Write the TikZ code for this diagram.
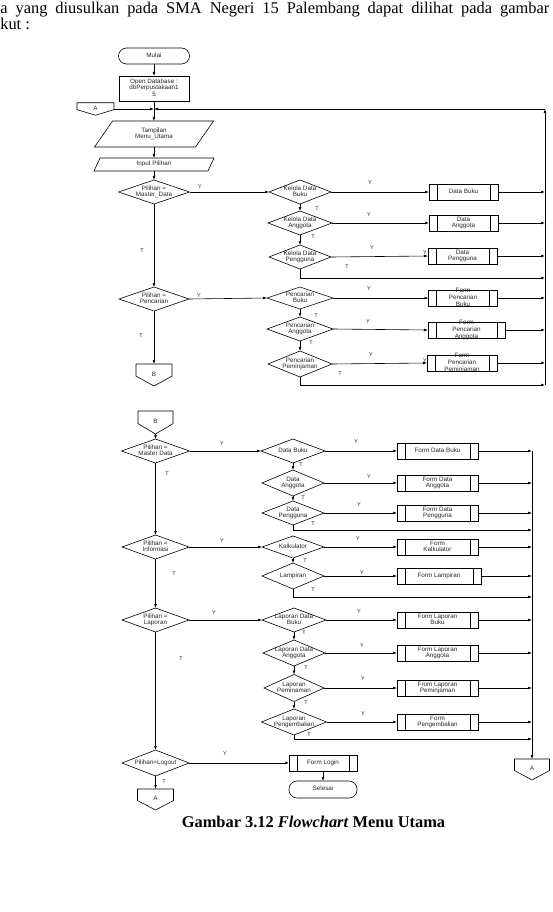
\documentclass[tikz,border=0pt]{standalone}
\usepackage{fontspec}
\setmainfont{Liberation Serif}
\newfontfamily\arialf{Liberation Sans}
\usetikzlibrary{arrows.meta,calc}
\newcommand\zt[1]{\smash{\makebox[0pt]{\raisebox{-1.6pt}{$\vcenter{\hbox{\begin{tabular}{@{}c@{}}#1\end{tabular}}}$}}}}
\begin{document}
\begin{tikzpicture}[x=1pt,y=-1pt,line width=0.6pt,
  base/.style={font=\arialf\fontsize{6.3}{6.8}\selectfont, inner sep=0pt, outer sep=0pt, text=black!85},
  box/.style={base, draw, rectangle},
  term/.style={base, draw, rectangle, rounded corners=8pt},
  proc/.style={base, draw, rectangle, minimum height=16pt,
    path picture={\draw ([xshift=8pt]path picture bounding box.north west) -- ([xshift=8pt]path picture bounding box.south west)
      ([xshift=-8pt]path picture bounding box.north east) -- ([xshift=-8pt]path picture bounding box.south east);}},
  blank/.style={base, rectangle},
  lab/.style={font=\arialf\fontsize{5.5}{6}\selectfont, inner sep=0pt, text=black!85},
  arr/.style={-{Latex[length=4pt,width=2.8pt]}}]
\useasboundingbox (0,0) rectangle (552,912);

% page text
\node[anchor=base west, inner sep=0pt, font=\fontsize{16.4}{19}\selectfont] (line1) at (0,14)
  {\makebox[549pt][s]{a yang diusulkan pada SMA Negeri 15 Palembang dapat dilihat pada gambar}};
\node[anchor=base west, inner sep=0pt, font=\fontsize{16.4}{19}\selectfont] (line2) at (0,29.5) {kut :};
\node[anchor=base, inner sep=0pt, font=\bfseries\fontsize{16.4}{19}\selectfont] (cap) at (313.5,827)
  {Gambar 3.12 \textit{Flowchart} Menu Utama};

% ---------- part 1 ----------
\node[term, minimum width=71pt, minimum height=16pt] (mulai) at (154,56) {\zt{Mulai}};
\node[box, minimum width=70pt, minimum height=25pt] (opendb) at (154,88.5) {\zt{Open Database :\\dbPerpustakaan1\\5}};
\node[blank, minimum width=37pt, minimum height=12.5pt] (conA1) at (95.5,109) {\zt{A}};
\node[blank, minimum width=119pt, minimum height=26pt] (tamp) at (154,134) {\zt{Tampilan\\Menu\_Utama}};
\node[blank, minimum width=120pt, minimum height=13pt] (inp) at (154,164.5) {\zt{Input Pilihan}};
\node[blank, minimum width=71pt, minimum height=24pt] (dMaster) at (154,192) {\zt{Pilihan =\\Master\_Data}};
\node[blank, minimum width=62pt, minimum height=24pt] (kBuku) at (300,192) {\zt{Kelola Data\\Buku}};
\node[blank, minimum width=64pt, minimum height=24pt] (kAng) at (300,223) {\zt{Kelola Data\\Anggota}};
\node[blank, minimum width=62pt, minimum height=24pt] (kPeng) at (300,257) {\zt{Kelola Data\\Pengguna}};
\node[proc, minimum width=69pt] (pBuku) at (463.5,192) {\zt{Data Buku}};
\node[proc, minimum width=69pt] (pAng) at (463.5,223) {\zt{Data\\Anggota}};
\node[proc, minimum width=69pt] (pPeng) at (462.5,256) {\zt{Data\\Pengguna}};
\node[blank, minimum width=70pt, minimum height=24pt] (dPenc) at (154,299) {\zt{Pilihan =\\Pencarian}};
\node[blank, minimum width=66pt, minimum height=22pt] (cBuku) at (300,298) {\zt{Pencarian\\Buku}};
\node[blank, minimum width=66pt, minimum height=24pt] (cAng) at (300,329) {\zt{Pencarian\\Anggota}};
\node[blank, minimum width=64pt, minimum height=26pt] (cPem) at (300,364) {\zt{Pencarian\\Peminjaman}};
\node[proc, minimum width=69pt] (fcBuku) at (463,298) {\zt{Form\\Pencarian\\Buku}};
\node[proc, minimum width=77pt] (fcAng) at (466.5,330) {\zt{Form\\Pencarian\\Anggota}};
\node[proc, minimum width=70pt] (fcPem) at (462,363) {\zt{Form\\Pencarian\\Peminjaman}};
\node[blank, minimum width=36pt, minimum height=22pt] (conB1) at (154,375) {\zt{B}};
\coordinate (rtop) at (545,109);
\coordinate (b1) at (545,278);
\coordinate (b2) at (545,385);

% ---------- part 2 ----------
\node[blank, minimum width=35pt, minimum height=23pt] (conB2) at (155.5,422.5) {\zt{B}};
\node[blank, minimum width=68pt, minimum height=24pt] (d2Master) at (155.5,451) {\zt{Pilihan =\\Master Data}};
\node[blank, minimum width=64pt, minimum height=24pt] (dbBuku) at (293,451) {\zt{Data Buku}};
\node[blank, minimum width=62pt, minimum height=26pt] (dbAng) at (293,483) {\zt{Data\\Anggota}};
\node[blank, minimum width=62pt, minimum height=24pt] (dbPeng) at (293,513) {\zt{Data\\Pengguna}};
\node[proc, minimum width=81pt] (fdBuku) at (437.5,451) {\zt{Form Data Buku}};
\node[proc, minimum width=81pt] (fdAng) at (437.5,483) {\zt{Form Data\\Anggota}};
\node[proc, minimum width=81pt] (fdPeng) at (437.5,513) {\zt{Form Data\\Pengguna}};
\node[blank, minimum width=67pt, minimum height=24pt] (d2Info) at (155.5,547) {\zt{Pilihan =\\Informasi}};
\node[blank, minimum width=62pt, minimum height=22pt] (kalk) at (293,547) {\zt{Kalkulator}};
\node[blank, minimum width=62pt, minimum height=26pt] (lamp) at (293,576) {\zt{Lampiran}};
\node[proc, minimum width=81pt] (fKalk) at (437.5,547) {\zt{Form\\Kalkulator}};
\node[proc, minimum width=84pt] (fLamp) at (439,576) {\zt{Form Lampiran}};
\node[blank, minimum width=67pt, minimum height=24pt] (d2Lap) at (155.5,620) {\zt{Pilihan =\\Laporan}};
\node[blank, minimum width=64pt, minimum height=24pt] (lBuku) at (294,620) {\zt{Laporan Data\\Buku}};
\node[blank, minimum width=62pt, minimum height=26pt] (lAng) at (294,653) {\zt{Laporan Data\\Anggota}};
\node[blank, minimum width=60pt, minimum height=27pt] (lPem) at (294,688) {\zt{Laporan\\Peminaman}};
\node[blank, minimum width=65pt, minimum height=26pt] (lPeng) at (294,722) {\zt{Laporan\\Pengembalian}};
\node[proc, minimum width=81pt] (flBuku) at (437.5,620) {\zt{Form Laporan\\Buku}};
\node[proc, minimum width=81pt] (flAng) at (437.5,653) {\zt{Form Laporan\\Anggota}};
\node[proc, minimum width=81pt] (flPem) at (437.5,688) {\zt{From Laporan\\Peminjaman}};
\node[proc, minimum width=81pt] (flPeng) at (437.5,722) {\zt{Form\\Pengembalian}};
\node[blank, minimum width=67pt, minimum height=26pt] (d2Logout) at (155.5,763) {\zt{Pilihan=Logout}};
\node[proc, minimum width=68pt] (fLogin) at (323,763) {\zt{Form Login}};
\node[term, minimum width=68pt, minimum height=17pt] (selesai) at (323,789.5) {\zt{Selesai}};
\node[blank, minimum width=35pt, minimum height=21pt] (conA2) at (532,769.5) {\zt{A}};
\node[blank, minimum width=36pt, minimum height=21pt] (conA3) at (155.5,799.5) {\zt{A}};
\coordinate (rtop2) at (532,451);
\coordinate (c1) at (532,530);
\coordinate (c2) at (532,597);
\coordinate (c3) at (532,739);

% ---------- shapes ----------
\foreach \n in {dMaster,kBuku,kAng,kPeng,dPenc,cBuku,cAng,cPem,d2Master,dbBuku,dbAng,dbPeng,d2Info,kalk,lamp,d2Lap,lBuku,lAng,lPem,lPeng,d2Logout}
  \draw (\n.north) -- (\n.east) -- (\n.south) -- (\n.west) -- cycle;
\foreach \n in {conA1,conB1,conB2,conA2,conA3}
  \draw (\n.north west) -- (\n.north east) -- ($(\n.north east)!0.55!(\n.south east)$) -- (\n.south)
    -- ($(\n.north west)!0.55!(\n.south west)$) -- cycle;
\draw ([xshift=18pt]tamp.north west) -- (tamp.north east) -- ([xshift=-18pt]tamp.south east) -- (tamp.south west) -- cycle;
\draw ([xshift=6pt]inp.north west) -- (inp.north east) -- ([xshift=-6pt]inp.south east) -- (inp.south west) -- cycle;

% ---------- connectors part 1 ----------
\draw[arr] (mulai) -- (opendb);
\draw[arr] (opendb) -- (tamp);
\draw[arr] (conA1.east) -- (conA1.east -| opendb.south);
\draw[arr] (b2) -- (rtop);
\draw[arr] (rtop) -- (rtop -| opendb.south);
\draw[arr] (tamp) -- (inp);
\draw[arr] (inp) -- (dMaster);
\draw[arr] (dMaster) -- (dPenc);
\draw[arr] (dPenc) -- (conB1);
\draw[arr] (dMaster.east) -- (kBuku.west);
\draw[arr] (dPenc.east) -- (cBuku.west);
\draw[arr] (kBuku) -- (kAng);
\draw[arr] (kAng) -- (kPeng);
\draw[arr] (cBuku) -- (cAng);
\draw[arr] (cAng) -- (cPem);
\draw[arr] (kBuku.east) -- (pBuku.west);
\draw[arr] (kAng.east) -- (pAng.west);
\draw[arr] (kPeng.east) -- (pPeng.west);
\draw[arr] (cBuku.east) -- (fcBuku.west);
\draw[arr] (cAng.east) -- (fcAng.west);
\draw[arr] (cPem.east) -- (fcPem.west);
\foreach \n in {pBuku,pAng,pPeng,fcBuku,fcAng,fcPem}
  \draw[arr] (\n.east) -- (\n.east -| rtop);
\draw[arr] (kPeng.south) |- (b1);
\draw[arr] (cPem.south) |- (b2);

% ---------- connectors part 2 ----------
\draw[arr] (conB2) -- (d2Master);
\draw[arr] (d2Master) -- (d2Info);
\draw[arr] (d2Info) -- (d2Lap);
\draw[arr] (d2Lap) -- (d2Logout);
\draw[arr] (d2Logout) -- (conA3);
\draw[arr] (d2Master.east) -- (dbBuku.west);
\draw[arr] (d2Info.east) -- (kalk.west);
\draw[arr] (d2Lap.east) -- (lBuku.west);
\draw[arr] (d2Logout.east) -- (fLogin.west);
\draw[arr] (fLogin) -- (selesai);
\draw[arr] (dbBuku) -- (dbAng);
\draw[arr] (dbAng) -- (dbPeng);
\draw[arr] (kalk) -- (lamp);
\draw[arr] (lBuku) -- (lAng);
\draw[arr] (lAng) -- (lPem);
\draw[arr] (lPem) -- (lPeng);
\draw[arr] (dbBuku.east) -- (fdBuku.west);
\draw[arr] (dbAng.east) -- (fdAng.west);
\draw[arr] (dbPeng.east) -- (fdPeng.west);
\draw[arr] (kalk.east) -- (fKalk.west);
\draw[arr] (lamp.east) -- (fLamp.west);
\draw[arr] (lBuku.east) -- (flBuku.west);
\draw[arr] (lAng.east) -- (flAng.west);
\draw[arr] (lPem.east) -- (flPem.west);
\draw[arr] (lPeng.east) -- (flPeng.west);
\foreach \n in {fdBuku,fdAng,fdPeng,fKalk,fLamp,flBuku,flAng,flPem,flPeng}
  \draw[arr] (\n.east) -- (\n.east -| rtop2);
\draw[arr] (dbPeng.south) |- (c1);
\draw[arr] (lamp.south) |- (c2);
\draw[arr] (lPeng.south) |- (c3);
\draw[arr] (rtop2) -- (conA2.north);

% ---------- labels ----------
\node[lab] (y1) at (200,187) {Y};
\node[lab] (t1) at (142,251) {T};
\node[lab] (y2) at (199,296) {Y};
\node[lab] (t2) at (141,336) {T};
\node[lab] (y3) at (370,183) {Y};
\node[lab] (y4) at (369,215) {Y};
\node[lab] (y5) at (372,248) {Y};
\node[lab] (y5b) at (425,253) {Y};
\node[lab] (t3) at (317,209) {T};
\node[lab] (t4) at (313,237) {T};
\node[lab] (t5) at (347,267) {T};
\node[lab] (y6) at (369,289) {Y};
\node[lab] (y7) at (368,322) {Y};
\node[lab] (y8) at (371,355) {Y};
\node[lab] (y8b) at (425,361) {Y};
\node[lab] (t6) at (316,316) {T};
\node[lab] (t7) at (311,343) {T};
\node[lab] (t8) at (340,374) {T};

\node[lab] (y9) at (222,444) {Y};
\node[lab] (t9) at (167,474) {T};
\node[lab] (y10) at (222,541) {Y};
\node[lab] (t10) at (174,574) {T};
\node[lab] (y11) at (214,613) {Y};
\node[lab] (t11) at (181,659) {T};
\node[lab] (y12) at (225,754) {Y};
\node[lab] (t12) at (164,782) {T};
\node[lab] (y13) at (356,442) {Y};
\node[lab] (y14) at (369,477) {Y};
\node[lab] (y15) at (359,505) {Y};
\node[lab] (y16) at (358,539) {Y};
\node[lab] (y17) at (362,573) {Y};
\node[lab] (t13) at (301,465) {T};
\node[lab] (t14) at (303,498) {T};
\node[lab] (t15) at (313,524) {T};
\node[lab] (t16) at (305,561) {T};
\node[lab] (t17) at (313,590) {T};
\node[lab] (y18) at (359,612) {Y};
\node[lab] (y19) at (362,646) {Y};
\node[lab] (y20) at (363,679) {Y};
\node[lab] (y21) at (363,714) {Y};
\node[lab] (t18) at (304,633) {T};
\node[lab] (t19) at (306,668) {T};
\node[lab] (t20) at (306,703) {T};
\node[lab] (t21) at (309,735) {T};
\end{tikzpicture}
\end{document}
